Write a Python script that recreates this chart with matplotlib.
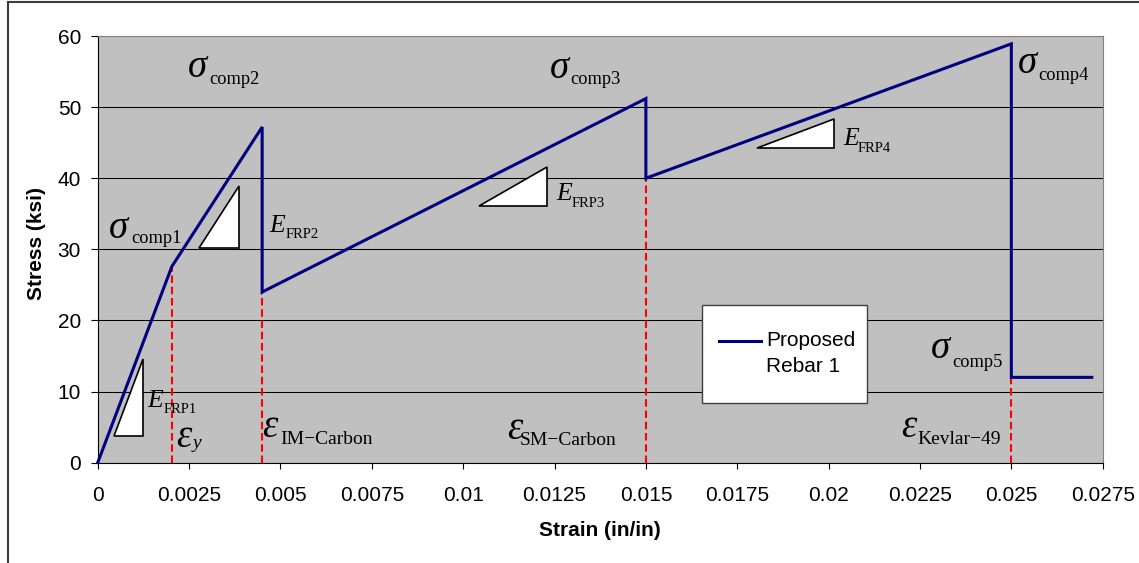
import matplotlib
matplotlib.use("Agg")
import matplotlib.pyplot as plt
from matplotlib.lines import Line2D
from matplotlib.patches import Polygon, Rectangle

# Stress-strain response of the proposed hybrid rebar
strain = [0.0, 0.00203, 0.0045, 0.0045, 0.015, 0.015, 0.025, 0.025, 0.0272]
stress = [0.0, 27.6, 47.2, 24.0, 51.2, 40.0, 58.9, 12.0, 12.0]

# Rupture / yield strains and the stress where each drop line meets the curve
limit_strain = [0.00203, 0.0045, 0.015, 0.025]
limit_stress = [27.6, 24.0, 40.0, 12.0]

x_ticks = [0, 0.0025, 0.005, 0.0075, 0.01, 0.0125, 0.015, 0.0175, 0.02,
           0.0225, 0.025, 0.0275]
x_tick_labels = ["0", "0.0025", "0.005", "0.0075", "0.01", "0.0125", "0.015",
                 "0.0175", "0.02", "0.0225", "0.025", "0.0275"]
y_ticks = [0, 10, 20, 30, 40, 50, 60]
y_tick_labels = ["0", "10", "20", "30", "40", "50", "60"]

series_name = "Proposed\nRebar 1"

W, H = 1139, 563
NAVY = "#000080"
SANS = "Liberation Sans"
SERIF = "Liberation Serif"


def fpx(x, y):
    """Pixel position (from top-left) to figure fraction."""
    return x / W, 1 - y / H


fig = plt.figure(figsize=(W / 100, H / 100), dpi=100)
fig.patch.set_facecolor("white")

left, right, top, bottom = 97.7, 1102.7, 36.0, 462.7
ax = fig.add_axes([left / W, 1 - bottom / H, (right - left) / W, (bottom - top) / H])
ax.set_facecolor("#C0C0C0")

ax.set_xlim(0, 0.0275)
ax.set_ylim(0, 60)
ax.set_xticks(x_ticks)
ax.set_xticklabels(x_tick_labels)
ax.set_yticks(y_ticks)
ax.set_yticklabels(y_tick_labels)
for lab in ax.get_xticklabels() + ax.get_yticklabels():
    lab.set_fontfamily(SANS)
    lab.set_fontsize(15)
ax.tick_params(axis="x", direction="out", length=4.5, width=0.8, pad=12, colors="black")
ax.tick_params(axis="y", direction="out", length=5, width=0.8, pad=7, colors="black")

ax.grid(axis="y", color="black", linewidth=0.75)
ax.grid(axis="x", visible=False)
ax.set_axisbelow(True)

for side in ("left", "bottom"):
    ax.spines[side].set_color("black")
    ax.spines[side].set_linewidth(0.8)
for side in ("top", "right"):
    ax.spines[side].set_color("#808080")
    ax.spines[side].set_linewidth(0.8)

# Dashed drop lines at each limit strain
for xs, ys in zip(limit_strain, limit_stress):
    ax.plot([xs, xs], [0, ys], color="#FF0000", linewidth=1.5,
            dashes=(3.6, 1.8), zorder=3)

# Main curve
ax.plot(strain, stress, color=NAVY, linewidth=2.2, solid_joinstyle="miter",
        zorder=4, clip_on=False)

# Slope triangles for each stiffness branch
slope_marks = [
    [(0.000454, 3.8), (0.00125, 3.8), (0.00125, 14.6)],
    [(0.00278, 30.15), (0.00387, 30.15), (0.00387, 38.9)],
    [(0.01044, 36.15), (0.01229, 36.15), (0.01229, 41.55)],
    [(0.01803, 44.26), (0.02015, 44.26), (0.02015, 48.3)],
]
for tri in slope_marks:
    ax.add_patch(Polygon(tri, closed=True, facecolor="white", edgecolor="black",
                         linewidth=1.2, zorder=3.5))


def symbol(xm, ym, main, xs, ys, sub, main_size, sub_size, sub_italic=False):
    ax.text(xm, ym, main, fontfamily=SERIF, fontstyle="italic",
            fontsize=main_size, ha="left", va="baseline", zorder=5)
    ax.text(xs, ys, sub, fontfamily=SERIF,
            fontstyle="italic" if sub_italic else "normal",
            fontsize=sub_size, ha="left", va="baseline", zorder=5)


SIG = 28
EPS = 28

# Stress levels
symbol(0.000300, 31.6, "\u03c3", 0.000911, 30.9, "comp1", SIG, 13.2)
symbol(0.00246, 54.2, "\u03c3", 0.00305, 53.2, "comp2", SIG, 13.2)
symbol(0.01236, 54.1, "\u03c3", 0.01294, 53.2, "comp3", SIG, 13.2)
symbol(0.02517, 54.8, "\u03c3", 0.02573, 53.8, "comp4", SIG, 13.2)
symbol(0.02279, 14.7, "\u03c3", 0.02338, 13.5, "comp5", SIG, 13.2)

# Branch moduli
symbol(0.00135, 7.83, "E", 0.00179, 7.0, "FRP1", 18.5, 10.5)
symbol(0.00469, 32.4, "E", 0.00513, 31.6, "FRP2", 18.5, 10.5)
symbol(0.01254, 36.9, "E", 0.01297, 36.0, "FRP3", 18.5, 10.5)
symbol(0.02040, 44.7, "E", 0.02080, 43.7, "FRP4", 18.5, 10.5)

# Limit strains
symbol(0.00214, 2.2, "\u03b5", 0.00261, 2.0, "y", EPS, 14, sub_italic=True)
symbol(0.00449, 3.6, "\u03b5", 0.00499, 2.63, "IM\u2212Carbon", EPS, 14)
symbol(0.01121, 3.4, "\u03b5", 0.01156, 2.5, "SM\u2212Carbon", EPS, 14)
symbol(0.02198, 3.6, "\u03b5", 0.02242, 2.63, "Kevlar\u221249", EPS, 14)

# Legend box
bx0, by0 = fpx(702, 403)
bx1, by1 = fpx(867, 305)
fig.add_artist(Rectangle((bx0, by0), bx1 - bx0, by1 - by0,
                         transform=fig.transFigure, facecolor="white",
                         edgecolor="#404040", linewidth=1.0, zorder=6))
lx0, ly = fpx(719, 341)
lx1, _ = fpx(761, 341)
fig.add_artist(Line2D([lx0, lx1], [ly, ly], transform=fig.transFigure,
                      color=NAVY, linewidth=2.2, zorder=7))
line1, line2 = series_name.split("\n")
tx, ty1 = fpx(766, 346)
_, ty2 = fpx(766, 372)
fig.text(tx, ty1, line1, fontfamily=SANS, fontsize=15, ha="left",
         va="baseline", zorder=7)
fig.text(tx, ty2, line2, fontfamily=SANS, fontsize=15, ha="left",
         va="baseline", zorder=7)

# Axis titles
xl, yl = fpx(36, 243)
fig.text(xl, yl, "Stress (ksi)", fontfamily=SANS, fontweight="bold",
         fontsize=15, rotation=90, ha="center", va="center")
xl, yl = fpx(600, 530)
fig.text(xl, yl, "Strain (in/in)", fontfamily=SANS, fontweight="bold",
         fontsize=15, ha="center", va="center")

# Outer chart border
bx, _ = fpx(7.5, 0)
_, byt = fpx(0, 1.5)
fig.add_artist(Line2D([bx, bx], [0, byt], transform=fig.transFigure,
                      color="#3c3c3c", linewidth=1.5))
fig.add_artist(Line2D([bx, 1], [byt, byt], transform=fig.transFigure,
                      color="#3c3c3c", linewidth=1.5))

fig.savefig("out.png", dpi=100)
